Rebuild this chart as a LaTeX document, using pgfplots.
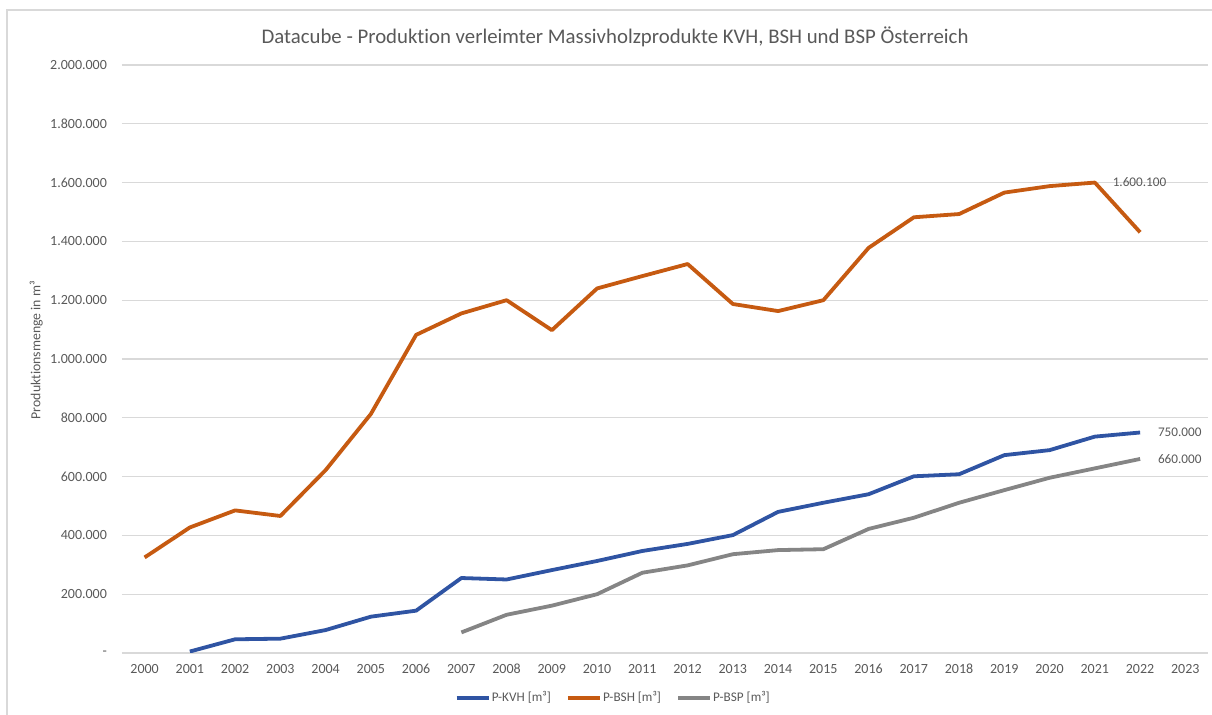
\documentclass[border=0pt]{standalone}
\usepackage{fontspec}
\setmainfont[Ligatures=NoCommon]{Carlito}
\usepackage{pgfplots}
\pgfplotsset{compat=1.18}
\definecolor{kvh}{HTML}{2F54A3}
\definecolor{bsh}{HTML}{C65A11}
\definecolor{bsp}{HTML}{858585}
\definecolor{txt}{HTML}{595959}
\definecolor{grd}{HTML}{D9D9D9}
\begin{document}
\begin{tikzpicture}[x=1pt,y=1pt]
\useasboundingbox (0,0) rectangle (606,357.5);
\draw[grd, line width=0.6pt] (3.5,-5) -- (3.5,352.5) -- (620,352.5);
\begin{axis}[
  scale only axis, width=543pt, height=294pt,
  at={(61pt,31pt)}, anchor=south west,
  xmin=1999.5, xmax=2023.5, ymin=0, ymax=2000000,
  xtick={2000,...,2023},
  ytick={0,200000,400000,600000,800000,1000000,1200000,1400000,1600000,1800000,2000000},
  yticklabels={{-},{200.000},{400.000},{600.000},{800.000},{1.000.000},{1.200.000},{1.400.000},{1.600.000},{1.800.000},{2.000.000}},
  scaled y ticks=false,
  axis line style={draw=none}, major tick length=0pt,
  ymajorgrids, grid style={grd, line width=0.6pt},
  tick label style={font=\fontsize{7}{8}\selectfont, text=txt},
  xticklabel style={/pgf/number format/1000 sep={}, /pgf/number format/assume math mode=true, yshift=-2pt},
  yticklabel style={xshift=-4pt},
  title={Datacube - Produktion verleimter Massivholzprodukte KVH, BSH und BSP Österreich},
  title style={at={(axis description cs:0.454,1)}, anchor=center, yshift=8pt, font=\fontsize{10.4}{12}\selectfont, text=txt},
  ylabel={Produktionsmenge in m³},
  ylabel style={at={(axis description cs:-0.079,0.515)}, anchor=center, font=\fontsize{6.9}{8}\selectfont, text=txt},
  legend style={at={(axis description cs:0.452,-0.0765)}, anchor=center, draw=none, fill=none,
    legend columns=3, font=\fontsize{6.6}{8}\selectfont, text=txt,
    nodes={inner sep=0.6pt},
    /tikz/every even column/.append style={column sep=7pt}},
  legend image code/.code={\draw[#1] (0pt,0pt) -- (16pt,0pt);},
  every axis plot/.append style={line width=1.9pt, line join=round, no marks},
]
\addplot[kvh] coordinates {
(2001,5000) (2002,46600) (2003,48700) (2004,78000) (2005,123500) (2006,144000)
(2007,255000) (2008,250000) (2009,282000) (2010,313000) (2011,347000) (2012,371000)
(2013,401000) (2014,480000) (2015,511000) (2016,540000) (2017,601000) (2018,608000)
(2019,673000) (2020,690000) (2021,736000) (2022,750000)};
\addlegendentry{P-KVH [m³]}
\addplot[bsh] coordinates {
(2000,325000) (2001,427000) (2002,485000) (2003,466000) (2004,622000) (2005,813000)
(2006,1082000) (2007,1155000) (2008,1200000) (2009,1098000) (2010,1240000) (2011,1282000)
(2012,1323000) (2013,1187000) (2014,1163000) (2015,1200000) (2016,1378000) (2017,1482000)
(2018,1493000) (2019,1566000) (2020,1588000) (2021,1600100) (2022,1431000)};
\addlegendentry{P-BSH [m³]}
\addplot[bsp] coordinates {
(2007,70000) (2008,130000) (2009,161000) (2010,200000) (2011,273000) (2012,298000)
(2013,336000) (2014,350000) (2015,353000) (2016,422000) (2017,460000) (2018,511000)
(2019,554000) (2020,596000) (2021,628000) (2022,660000)};
\addlegendentry{P-BSP [m³]}
\addplot[draw=none, forget plot, nodes near coords={1.600.100},
  every node near coord/.style={anchor=west, inner sep=0pt, xshift=8pt, font=\fontsize{6.6}{8}\selectfont, text=txt}]
  coordinates {(2021,1600100)};
\addplot[draw=none, forget plot, nodes near coords={750.000},
  every node near coord/.style={anchor=west, inner sep=0pt, xshift=8pt, font=\fontsize{6.6}{8}\selectfont, text=txt}]
  coordinates {(2022,750000)};
\addplot[draw=none, forget plot, nodes near coords={660.000},
  every node near coord/.style={anchor=west, inner sep=0pt, xshift=8pt, font=\fontsize{6.6}{8}\selectfont, text=txt}]
  coordinates {(2022,660000)};
\end{axis}
\end{tikzpicture}
\end{document}
